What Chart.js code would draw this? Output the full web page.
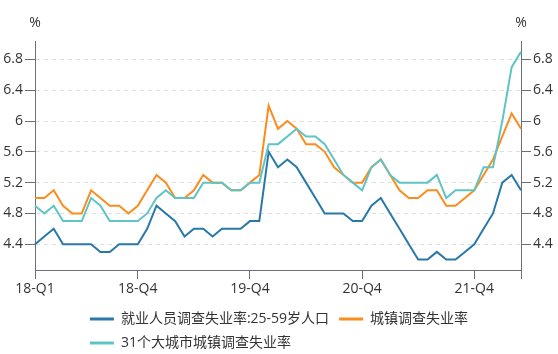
<!DOCTYPE html>
<html>
<head>
<meta charset="utf-8">
<script src="https://cdn.jsdelivr.net/npm/chart.js@4/dist/chart.umd.min.js"></script>
<style>
  html, body { margin: 0; padding: 0; background: #fff; }
  #wrap { width: 558px; height: 354px; position: relative; }
</style>
</head>
<body>
<div id="wrap"><canvas id="myChart"></canvas></div>
<script>
var months = [
    "2018-01","2018-02","2018-03","2018-04","2018-05","2018-06","2018-07","2018-08","2018-09","2018-10","2018-11","2018-12",
    "2019-01","2019-02","2019-03","2019-04","2019-05","2019-06","2019-07","2019-08","2019-09","2019-10","2019-11","2019-12",
    "2020-01","2020-02","2020-03","2020-04","2020-05","2020-06","2020-07","2020-08","2020-09","2020-10","2020-11","2020-12",
    "2021-01","2021-02","2021-03","2021-04","2021-05","2021-06","2021-07","2021-08","2021-09","2021-10","2021-11","2021-12",
    "2022-01","2022-02","2022-03","2022-04","2022-05"
];
// x tick marks: labelled months plus the axis end
var tickMonths = ["2018-01", "2018-12", "2019-12", "2020-12", "2021-12", "2022-05"];
var tickNames  = ["18-Q1", "18-Q4", "19-Q4", "20-Q4", "21-Q4", ""];
var yTicks = [4.4, 4.8, 5.2, 5.6, 6, 6.4, 6.8];

var age2559 = [
    4.4, 4.5, 4.6, 4.4, 4.4, 4.4, 4.4, 4.3, 4.3, 4.4, 4.4, 4.4,
    4.6, 4.9, 4.8, 4.7, 4.5, 4.6, 4.6, 4.5, 4.6, 4.6, 4.6, 4.7,
    4.7, 5.6, 5.4, 5.5, 5.4, 5.2, 5.0, 4.8, 4.8, 4.8, 4.7, 4.7,
    4.9, 5.0, 4.8, 4.6, 4.4, 4.2, 4.2, 4.3, 4.2, 4.2, 4.3, 4.4,
    4.6, 4.8, 5.2, 5.3, 5.1
];
var urban = [
    5.0, 5.0, 5.1, 4.9, 4.8, 4.8, 5.1, 5.0, 4.9, 4.9, 4.8, 4.9,
    5.1, 5.3, 5.2, 5.0, 5.0, 5.1, 5.3, 5.2, 5.2, 5.1, 5.1, 5.2,
    5.3, 6.2, 5.9, 6.0, 5.9, 5.7, 5.7, 5.6, 5.4, 5.3, 5.2, 5.2,
    5.4, 5.5, 5.3, 5.1, 5.0, 5.0, 5.1, 5.1, 4.9, 4.9, 5.0, 5.1,
    5.3, 5.5, 5.8, 6.1, 5.9
];
var city31 = [
    4.9, 4.8, 4.9, 4.7, 4.7, 4.7, 5.0, 4.9, 4.7, 4.7, 4.7, 4.7,
    4.8, 5.0, 5.1, 5.0, 5.0, 5.0, 5.2, 5.2, 5.2, 5.1, 5.1, 5.2,
    5.2, 5.7, 5.7, 5.8, 5.9, 5.8, 5.8, 5.7, 5.5, 5.3, 5.2, 5.1,
    5.4, 5.5, 5.3, 5.2, 5.2, 5.2, 5.2, 5.3, 5.0, 5.1, 5.1, 5.1,
    5.4, 5.4, 6.0, 6.7, 6.9
];

var axisColor = "#6e7079";
var textColor = "#333";

Chart.defaults.font.family = '"Open Sans", "Noto Sans CJK SC", sans-serif';
Chart.defaults.font.size = 14;
Chart.defaults.color = textColor;

function yAxis(pos, width, onArea) {
    return {
        type: "linear",
        position: pos,
        min: 4.065,
        max: 7.04,
        afterBuildTicks: function(axis) {
            axis.ticks = yTicks.map(function(v) { return { value: v }; });
        },
        afterFit: function(axis) { axis.width = width; },
        ticks: {
            padding: 2,
            callback: function(v) { return String(v); }
        },
        grid: {
            drawOnChartArea: onArea,
            color: "#e0e0e0",
            tickColor: axisColor,
            tickLength: 10,
            tickBorderDash: []
        },
        border: { display: true, color: axisColor, dash: [4, 4] }
    };
}

// "%" above both value axes
var unitLabel = {
    id: "unitLabel",
    afterDraw: function(chart) {
        var ctx = chart.ctx, a = chart.chartArea;
        ctx.save();
        ctx.font = '14px "Open Sans", sans-serif';
        ctx.fillStyle = textColor;
        ctx.textAlign = "center";
        ctx.textBaseline = "middle";
        ctx.fillText("%", a.left, a.top - 18);
        ctx.fillText("%", a.right, a.top - 18);
        ctx.restore();
    }
};

// centre the first legend row, keep later rows starting at the same x
var legendLeft = {
    id: "legendLeft",
    beforeDraw: function(chart) {
        var lg = chart.legend;
        if (!lg || !lg.lineWidths) return;
        var pad = lg.options.labels.padding;
        lg.left = (pad + chart.width - lg.lineWidths[0]) / 2 - pad;
    }
};

var ctx = document.getElementById("myChart").getContext("2d");
var myChart = new Chart(ctx, {
    type: "line",
    data: {
        labels: months,
        datasets: [
            {
                label: "就业人员调查失业率:25-59岁人口",
                data: age2559,
                borderColor: "#2878a8",
                backgroundColor: "#2878a8",
                borderWidth: 2,
                pointRadius: 0,
                order: 2
            },
            {
                label: "城镇调查失业率",
                data: urban,
                borderColor: "#fb8c1e",
                backgroundColor: "#fb8c1e",
                borderWidth: 2,
                pointRadius: 0,
                order: 1
            },
            {
                label: "31个大城市城镇调查失业率",
                data: city31,
                borderColor: "#5ec4c4",
                backgroundColor: "#5ec4c4",
                borderWidth: 2,
                pointRadius: 0,
                order: 0
            }
        ]
    },
    options: {
        responsive: true,
        maintainAspectRatio: false,
        animation: false,
        layout: { padding: { top: 41, left: 0, right: 0, bottom: 0 } },
        elements: { line: { tension: 0 } },
        scales: {
            x: {
                type: "category",
                offset: false,
                afterBuildTicks: function(axis) {
                    axis.ticks = tickMonths.map(function(m) { return { value: months.indexOf(m) }; });
                },
                afterFit: function(axis) { axis.height = 32; },
                ticks: {
                    autoSkip: false,
                    maxRotation: 0,
                    padding: 2,
                    callback: function(v) {
                        var k = tickMonths.indexOf(months[v]);
                        return k < 0 ? "" : tickNames[k];
                    }
                },
                grid: {
                    drawOnChartArea: false,
                    color: axisColor,
                    tickLength: 9
                },
                border: { display: true, color: axisColor }
            },
            y: yAxis("left", 35, true),
            y2: yAxis("right", 37, false)
        },
        plugins: {
            tooltip: { enabled: false },
            legend: {
                position: "bottom",
                align: "start",
                maxHeight: 52,
                labels: {
                    usePointStyle: true,
                    pointStyleWidth: 24,
                    padding: 10,
                    color: textColor,
                    sort: function(a, b) { return a.datasetIndex - b.datasetIndex; },
                    generateLabels: function(chart) {
                        var items = Chart.defaults.plugins.legend.labels.generateLabels(chart);
                        items.forEach(function(it) {
                            it.pointStyle = "line";
                            it.lineWidth = 3;
                        });
                        return items;
                    }
                }
            }
        }
    },
    plugins: [unitLabel, legendLeft]
});
</script>
</body>
</html>
